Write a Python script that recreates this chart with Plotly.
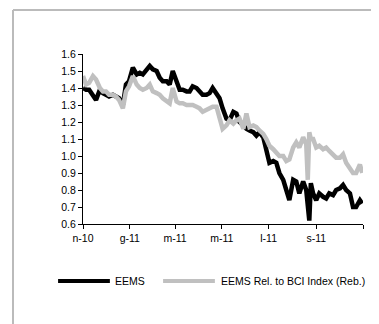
import plotly.graph_objects as go

dates = [
    "2010-11-01", "2010-11-05", "2010-11-09", "2010-11-14", "2010-11-18", "2010-11-23",
    "2010-11-27", "2010-12-01", "2010-12-05", "2010-12-10", "2010-12-14", "2010-12-18",
    "2010-12-23", "2010-12-27", "2010-12-31", "2011-01-05", "2011-01-10", "2011-01-14",
    "2011-01-18", "2011-01-23", "2011-01-27", "2011-01-31", "2011-02-05", "2011-02-09",
    "2011-02-13", "2011-02-18", "2011-02-22", "2011-02-26", "2011-03-03", "2011-03-07",
    "2011-03-11", "2011-03-16", "2011-03-20", "2011-03-24", "2011-03-29", "2011-04-02",
    "2011-04-06", "2011-04-11", "2011-04-15", "2011-04-19", "2011-04-24", "2011-04-28",
    "2011-05-02", "2011-05-07", "2011-05-11", "2011-05-16", "2011-05-20", "2011-05-24",
    "2011-05-29", "2011-06-02", "2011-06-06", "2011-06-11", "2011-06-15", "2011-06-19",
    "2011-06-24", "2011-06-28", "2011-07-02", "2011-07-07", "2011-07-11", "2011-07-15",
    "2011-07-20", "2011-07-24", "2011-07-28", "2011-08-02", "2011-08-06", "2011-08-10",
    "2011-08-15", "2011-08-19", "2011-08-21", "2011-08-23", "2011-08-25", "2011-08-28",
    "2011-09-01", "2011-09-05", "2011-09-10", "2011-09-14", "2011-09-18", "2011-09-23",
    "2011-09-27", "2011-10-02", "2011-10-06", "2011-10-10", "2011-10-15", "2011-10-19",
    "2011-10-23", "2011-10-28", "2011-10-31",
]

eems = [
    1.40, 1.39, 1.39, 1.36, 1.33, 1.39,
    1.37, 1.36, 1.35, 1.36, 1.35, 1.34,
    1.30, 1.42, 1.44, 1.52, 1.48, 1.49,
    1.48, 1.51, 1.53, 1.51, 1.50, 1.46,
    1.44, 1.44, 1.42, 1.50, 1.43, 1.39,
    1.39, 1.38, 1.38, 1.41, 1.40, 1.38,
    1.36, 1.36, 1.37, 1.40, 1.37, 1.34,
    1.28, 1.22, 1.21, 1.26, 1.25, 1.20,
    1.18, 1.16, 1.15, 1.14, 1.12, 1.14,
    1.11, 1.04, 0.96, 0.97, 0.96, 0.90,
    0.86, 0.80, 0.74, 0.86, 0.85, 0.78,
    0.85, 0.80, 0.72, 0.62, 0.84, 0.78,
    0.74, 0.78, 0.76, 0.75, 0.78, 0.77,
    0.80, 0.81, 0.83, 0.80, 0.78, 0.70,
    0.70, 0.74, 0.72,
]

eems_rel = [
    1.47, 1.42, 1.43, 1.47, 1.45, 1.40,
    1.38, 1.38, 1.36, 1.36, 1.35, 1.33,
    1.28, 1.38, 1.41, 1.47, 1.42, 1.40,
    1.39, 1.40, 1.42, 1.38, 1.37, 1.36,
    1.34, 1.32, 1.31, 1.40, 1.32, 1.31,
    1.31, 1.30, 1.30, 1.30, 1.29, 1.28,
    1.26, 1.27, 1.28, 1.29, 1.29, 1.22,
    1.16, 1.18, 1.21, 1.19, 1.21, 1.22,
    1.16, 1.25, 1.17, 1.18, 1.17, 1.15,
    1.13, 1.10, 1.06, 1.04, 1.02, 1.00,
    1.00, 0.97, 0.98, 1.05, 1.08, 1.05,
    1.11, 1.07, 0.86, 1.14, 1.10, 1.10,
    1.05, 1.06, 1.04, 1.05, 1.03, 1.01,
    0.99, 0.99, 1.01, 0.96, 0.92, 0.90,
    0.90, 0.95, 0.90,
]

tick_vals = ["2010-11-01", "2011-01-01", "2011-03-01", "2011-05-01",
             "2011-07-01", "2011-09-01", "2011-11-01"]
tick_text = ["n-10", "g-11", "m-11", "m-11", "l-11", "s-11", ""]

series_names = ["EEMS", "EEMS Rel. to BCI Index (Reb.)"]
colors = ["#000000", "#c0c0c0"]

FONT = "Liberation Sans, Arial, sans-serif"

fig = go.Figure()
fig.add_trace(go.Scatter(x=dates, y=eems, mode="lines", name=series_names[0],
                         line=dict(color=colors[0], width=4.5), showlegend=False))
fig.add_trace(go.Scatter(x=dates, y=eems_rel, mode="lines", name=series_names[1],
                         line=dict(color=colors[1], width=4.5), showlegend=False))

# Legend drawn manually (long line samples as in the original)
leg_y = -0.335
legend_items = [(-0.089, 0.096, 0.107), (0.286, 0.471, 0.486)]
for (x0, x1, xt), name, col in zip(legend_items, series_names, colors):
    fig.add_shape(type="line", xref="paper", yref="paper", x0=x0, x1=x1,
                  y0=leg_y, y1=leg_y, line=dict(color=col, width=4))
    fig.add_annotation(xref="paper", yref="paper", x=xt, y=leg_y, text=name,
                       showarrow=False, xanchor="left", yanchor="middle",
                       font=dict(family=FONT, size=10.5, color="#000000"))

# outer frame (gray)
fig.add_shape(type="line", xref="paper", yref="paper", x0=-0.25, x1=1.2,
              y0=1.259, y1=1.259, line=dict(color="#bbbbbb", width=2))
fig.add_shape(type="line", xref="paper", yref="paper", x0=-0.25, x1=-0.25,
              y0=1.259, y1=-0.7, line=dict(color="#bbbbbb", width=2))

fig.update_layout(
    width=379, height=324,
    margin=dict(l=75, r=24, t=46, b=108),
    paper_bgcolor="white", plot_bgcolor="white",
    font=dict(family=FONT, size=10.5, color="#000000"),
)
fig.update_xaxes(
    type="date", range=["2010-11-01", "2011-11-01"],
    tickmode="array", tickvals=tick_vals, ticktext=tick_text,
    showgrid=False, zeroline=False, showline=True, linecolor="#000000", linewidth=1,
    ticks="outside", ticklen=4, tickcolor="#000000",
)
fig.update_yaxes(
    range=[0.6, 1.6], dtick=0.1, tick0=0.6, tickformat=".1f",
    showgrid=False, zeroline=False, showline=True, linecolor="#000000", linewidth=1,
    ticks="outside", ticklen=4, tickcolor="#000000",
)

fig.write_html("out.html")
